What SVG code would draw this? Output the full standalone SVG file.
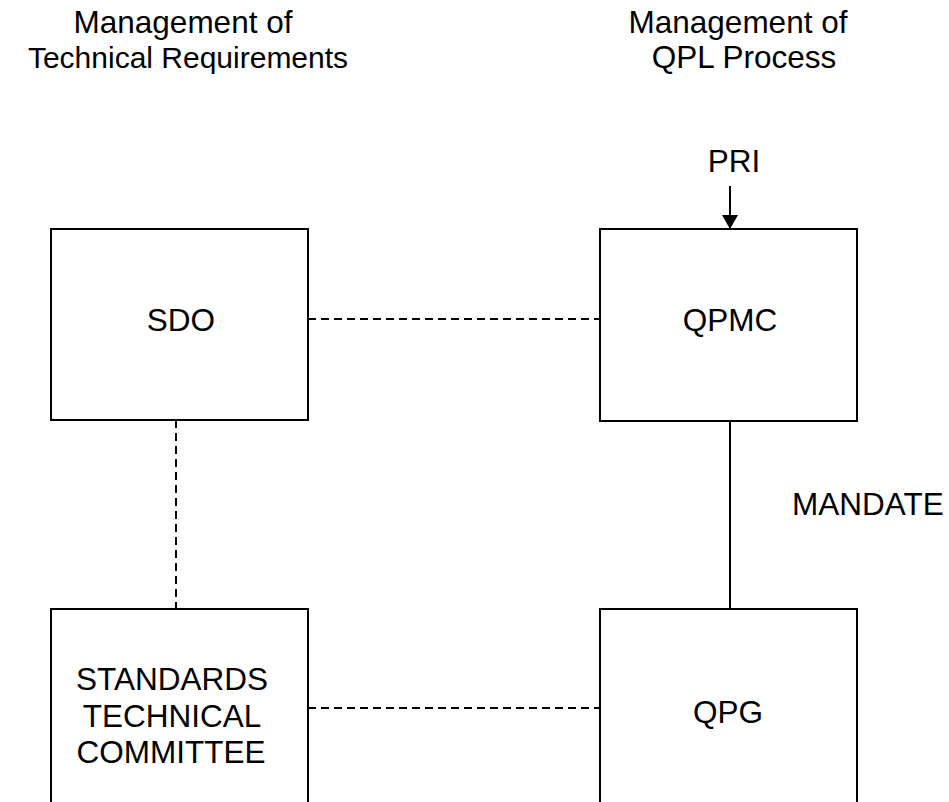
<svg xmlns="http://www.w3.org/2000/svg" width="949" height="802" viewBox="0 0 949 802">
<defs>
<style>
text{font-family:"Liberation Sans",Arial,sans-serif;font-size:31.5px;fill:#000}
.m{text-anchor:middle}
.box{fill:#fff;stroke:#000;stroke-width:2}
.solid{stroke:#000;stroke-width:2;fill:none}
.dash{stroke:#000;stroke-width:2;fill:none;stroke-dasharray:8,5}
</style>
<marker id="arr" markerWidth="14" markerHeight="16" refX="14" refY="8" orient="auto" markerUnits="userSpaceOnUse">
<path d="M0,0 L14,8 L0,16 Z" fill="#000"/>
</marker>
</defs>
<rect width="949" height="802" fill="#fff"/>
<g id="headers">
<text class="m" x="183" y="33">Management of</text>
<text class="m" x="188" y="68" style="font-size:30px">Technical Requirements</text>
<text class="m" x="738" y="33">Management of</text>
<text class="m" x="744" y="68">QPL Process</text>
<text class="m" x="734" y="172">PRI</text>
<text x="792" y="515">MANDATE</text>
</g>
<g id="connectors">
<line class="dash" x1="308" y1="319" x2="600" y2="319"/>
<line class="dash" x1="176" y1="420" x2="176" y2="609"/>
<line class="dash" x1="308" y1="708" x2="600" y2="708"/>
<line class="solid" x1="730" y1="421" x2="730" y2="609"/>
<line class="solid" x1="730" y1="186" x2="730" y2="229" marker-end="url(#arr)"/>
</g>
<g id="sdo">
<rect class="box" x="51" y="229" width="257" height="191"/>
<text class="m" x="181" y="331">SDO</text>
</g>
<g id="qpmc">
<rect class="box" x="600" y="229" width="257" height="192"/>
<text class="m" x="730" y="331">QPMC</text>
</g>
<g id="stc">
<rect class="box" x="51" y="609" width="257" height="210"/>
<text class="m" x="172" y="690">STANDARDS</text>
<text class="m" x="172" y="727">TECHNICAL</text>
<text class="m" x="171" y="763">COMMITTEE</text>
</g>
<g id="qpg">
<rect class="box" x="600" y="609" width="257" height="210"/>
<text class="m" x="728" y="723">QPG</text>
</g>
</svg>
